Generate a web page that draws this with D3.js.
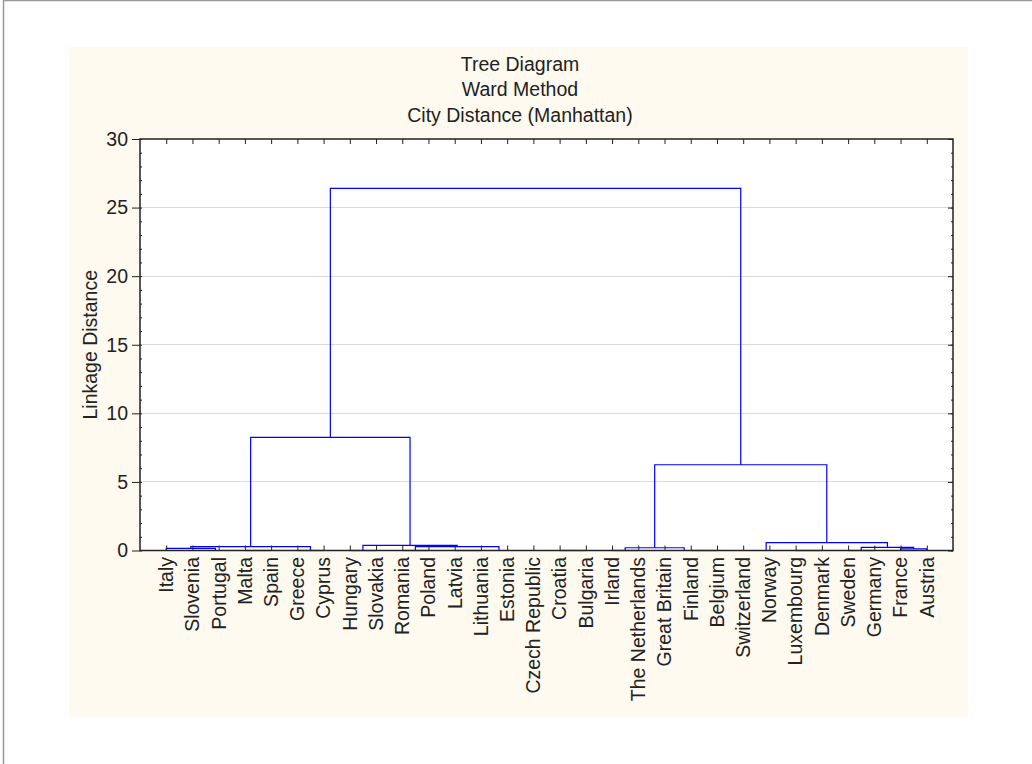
<!DOCTYPE html>
<html>
<head>
<meta charset="utf-8">
<script src="https://cdn.jsdelivr.net/npm/d3@7"></script>
<style>
  body { margin: 0; background: #fff; }
  svg { display: block; font-family: "Liberation Sans", Arial, sans-serif; }
  text { fill: #222; }
</style>
</head>
<body>
<svg id="chart" width="1032" height="764"></svg>
<script>
// leaves in plotted order
const countries = ['Italy', 'Slovenia', 'Portugal', 'Malta', 'Spain', 'Greece', 'Cyprus',
  'Hungary', 'Slovakia', 'Romania', 'Poland', 'Latvia', 'Lithuania', 'Estonia',
  'Czech Republic', 'Croatia', 'Bulgaria', 'Irland', 'The Netherlands', 'Great Britain',
  'Finland', 'Belgium', 'Switzerland', 'Norway', 'Luxembourg', 'Denmark', 'Sweden',
  'Germany', 'France', 'Austria'];

// linkage: [child a, child b, distance]; ids 0..29 are leaves, merge k gets id 30 + k
const merges = [
  [3, 4, 0], [2, 30, 0], [1, 31, 0], [0, 32, 0.16], [5, 6, 0], [33, 34, 0.28],
  [7, 8, 0], [9, 10, 0], [11, 12, 0], [15, 16, 0], [14, 39, 0], [13, 40, 0],
  [38, 41, 0], [37, 42, 0.28], [36, 43, 0.37], [35, 44, 8.25],
  [17, 18, 0], [20, 21, 0], [19, 47, 0], [46, 48, 0.2],
  [24, 25, 0], [23, 50, 0], [22, 51, 0], [26, 27, 0], [28, 29, 0.12],
  [53, 54, 0.23], [52, 55, 0.57], [49, 56, 6.25], [45, 57, 26.4]
];

const yTicks = [0, 5, 10, 15, 20, 25, 30];
const titleLines = ['Tree Diagram', 'Ward Method', 'City Distance (Manhattan)'];

const svg = d3.select('#chart');
const pl = 140, pr = 953, pt = 139, pb = 550.5;
const fs = 19.5;

// outer frame and panel
svg.append('rect').attr('x', 3.5).attr('y', 0.5).attr('width', 1100).attr('height', 900)
  .attr('fill', 'none').attr('stroke', '#999').attr('stroke-width', 1.5);
svg.append('rect').attr('x', 69).attr('y', 47).attr('width', 899).attr('height', 670)
  .attr('fill', '#fffaf0');
svg.append('rect').attr('x', pl).attr('y', pt).attr('width', pr - pl).attr('height', pb - pt)
  .attr('fill', '#fff');

const x = d3.scalePoint().domain(countries).range([pl, pr]).padding(1);
const y = d3.scaleLinear().domain([0, 30]).range([pb, pt]);

// grid
svg.append('g').selectAll('line')
  .data(yTicks.filter(d => d > 0 && d < 30))
  .join('line')
  .attr('x1', pl).attr('x2', pr)
  .attr('y1', d => y(d)).attr('y2', d => y(d))
  .attr('stroke', '#dadada').attr('shape-rendering', 'crispEdges');

// node positions
const pos = countries.map(c => ({ x: x(c), h: 0 }));
merges.forEach(([a, b, h]) => {
  pos.push({ x: (pos[a].x + pos[b].x) / 2, h: h });
});

svg.append('g').selectAll('path')
  .data(merges)
  .join('path')
  .attr('d', ([a, b, h]) => `M${pos[a].x},${y(pos[a].h)}V${y(h)}H${pos[b].x}V${y(pos[b].h)}`)
  .attr('fill', 'none').attr('stroke', '#0000ff').attr('stroke-width', 1.2);

// axes
function styleAxis(g) {
  g.select('.domain').remove();
  g.selectAll('line').attr('stroke', '#222');
}
const minor = d3.range(0, 31);

svg.append('g').attr('transform', `translate(${pl},0)`)
  .call(d3.axisLeft(y).tickValues(yTicks).tickSize(8).tickPadding(4))
  .call(styleAxis)
  .call(g => g.selectAll('text').attr('font-size', fs).attr('fill', '#222')
    .attr('font-family', '"Liberation Sans", Arial, sans-serif'));
svg.append('g').attr('transform', `translate(${pl},0)`)
  .call(d3.axisLeft(y).tickValues(minor).tickSize(-2).tickFormat(''))
  .call(styleAxis);
svg.append('g').attr('transform', `translate(${pr},0)`)
  .call(d3.axisRight(y).tickValues(yTicks).tickSize(-5).tickFormat(''))
  .call(styleAxis);
svg.append('g').attr('transform', `translate(${pr},0)`)
  .call(d3.axisRight(y).tickValues(minor).tickSize(-2).tickFormat(''))
  .call(styleAxis);
svg.append('g').attr('transform', `translate(0,${pt})`)
  .call(d3.axisTop(x).tickSize(-5).tickFormat(''))
  .call(styleAxis);
svg.append('g').attr('transform', `translate(0,${pb})`)
  .call(d3.axisBottom(x).tickSize(-5).tickFormat(''))
  .call(styleAxis);

svg.append('rect').attr('x', pl).attr('y', pt).attr('width', pr - pl).attr('height', pb - pt)
  .attr('fill', 'none').attr('stroke', '#222').attr('stroke-width', 1.5);

// leaf labels
svg.append('g').selectAll('text')
  .data(countries)
  .join('text')
  .attr('transform', d => `translate(${x(d)},557) rotate(-90)`)
  .attr('dy', '0.35em')
  .attr('text-anchor', 'end')
  .attr('font-size', fs)
  .text(d => d);

// y title
svg.append('text')
  .attr('transform', `translate(97,${(pt + pb) / 2}) rotate(-90)`)
  .attr('text-anchor', 'middle')
  .attr('font-size', fs)
  .text('Linkage Distance');

// titles
svg.append('g').selectAll('text')
  .data(titleLines)
  .join('text')
  .attr('x', 520)
  .attr('y', (d, i) => 70.5 + i * 25.5)
  .attr('text-anchor', 'middle')
  .attr('font-size', fs)
  .text(d => d);
</script>
</body>
</html>
